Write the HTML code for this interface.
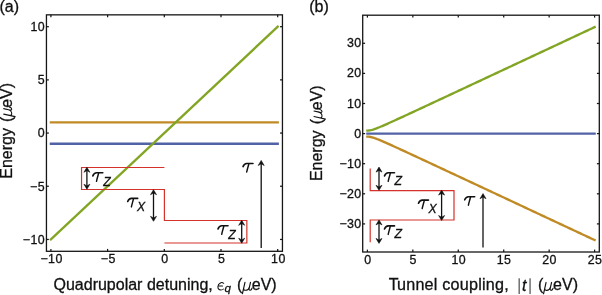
<!DOCTYPE html>
<html><head><meta charset="utf-8"><style>
html,body{margin:0;padding:0;background:#fff;}
svg{display:block;will-change:transform;}
text{font-family:"Liberation Sans",sans-serif;fill:#111;font-kerning:none;stroke:#111;stroke-width:0.3px;}
.t text{font-size:12.4px;letter-spacing:0.4px;}
.m{font-family:"Liberation Serif",serif;font-style:italic;}
.si{font-family:"Liberation Sans",sans-serif;font-style:italic;}
.ax{font-size:16px;}
</style></head><body>
<svg width="602" height="295" viewBox="0 0 602 295">
<rect width="602" height="295" fill="#fff"/>
<text x="-0.6" y="11.9" font-size="16">(a)</text>
<text x="309.2" y="11.9" font-size="16">(b)</text>

<!-- panel a curves -->
<g fill="none" stroke-width="2.35" stroke-linecap="square">
<line x1="50.90" y1="122.43" x2="277.70" y2="122.43" stroke="#c08a24"/>
<line x1="50.90" y1="143.71" x2="277.70" y2="143.71" stroke="#5262a6"/>
<line x1="50.90" y1="239.44" x2="277.70" y2="26.70" stroke="#82a524"/>
</g>
<!-- panel b curves -->
<g fill="none" stroke-width="2.35" stroke-linecap="square" stroke-linejoin="round">
<line x1="367.40" y1="133.60" x2="594.60" y2="133.60" stroke="#5262a6"/>
<polyline points="367.40,130.59 368.54,130.54 369.67,130.41 370.81,130.19 371.94,129.91 373.08,129.58 374.22,129.21 375.35,128.81 376.49,128.39 377.62,127.94 378.76,127.49 379.90,127.02 381.03,126.54 382.17,126.06 383.30,125.57 384.44,125.07 385.58,124.57 386.71,124.07 387.85,123.56 388.98,123.05 390.12,122.54 391.26,122.03 392.39,121.51 393.53,121.00 394.66,120.48 395.80,119.96 396.94,119.44 398.07,118.92 399.21,118.40 400.34,117.88 401.48,117.36 402.62,116.83 403.75,116.31 404.89,115.78 406.02,115.26 407.16,114.73 408.30,114.21 409.43,113.68 410.57,113.16 411.70,112.63 412.84,112.10 413.98,111.58 415.11,111.05 416.25,110.52 417.38,109.99 418.52,109.47 419.66,108.94 420.79,108.41 421.93,107.88 423.06,107.35 424.20,106.83 425.34,106.30 426.47,105.77 427.61,105.24 428.74,104.71 429.88,104.18 431.02,103.65 432.15,103.12 433.29,102.59 434.42,102.06 435.56,101.53 436.70,101.00 437.83,100.47 438.97,99.94 440.10,99.41 441.24,98.88 442.38,98.35 443.51,97.82 444.65,97.29 445.78,96.76 446.92,96.23 448.06,95.70 449.19,95.17 450.33,94.64 451.46,94.11 452.60,93.58 453.74,93.05 454.87,92.52 456.01,91.99 457.14,91.46 458.28,90.93 459.42,90.40 460.55,89.86 461.69,89.33 462.82,88.80 463.96,88.27 465.10,87.74 466.23,87.21 467.37,86.68 468.50,86.15 469.64,85.62 470.78,85.09 471.91,84.55 473.05,84.02 474.18,83.49 475.32,82.96 476.46,82.43 477.59,81.90 478.73,81.37 479.86,80.84 481.00,80.31 482.14,79.77 483.27,79.24 484.41,78.71 485.54,78.18 486.68,77.65 487.82,77.12 488.95,76.59 490.09,76.05 491.22,75.52 492.36,74.99 493.50,74.46 494.63,73.93 495.77,73.40 496.90,72.87 498.04,72.33 499.18,71.80 500.31,71.27 501.45,70.74 502.58,70.21 503.72,69.68 504.86,69.15 505.99,68.61 507.13,68.08 508.26,67.55 509.40,67.02 510.54,66.49 511.67,65.96 512.81,65.42 513.94,64.89 515.08,64.36 516.22,63.83 517.35,63.30 518.49,62.77 519.62,62.24 520.76,61.70 521.90,61.17 523.03,60.64 524.17,60.11 525.30,59.58 526.44,59.05 527.58,58.51 528.71,57.98 529.85,57.45 530.98,56.92 532.12,56.39 533.26,55.86 534.39,55.32 535.53,54.79 536.66,54.26 537.80,53.73 538.94,53.20 540.07,52.67 541.21,52.13 542.34,51.60 543.48,51.07 544.62,50.54 545.75,50.01 546.89,49.47 548.02,48.94 549.16,48.41 550.30,47.88 551.43,47.35 552.57,46.82 553.70,46.28 554.84,45.75 555.98,45.22 557.11,44.69 558.25,44.16 559.38,43.63 560.52,43.09 561.66,42.56 562.79,42.03 563.93,41.50 565.06,40.97 566.20,40.43 567.34,39.90 568.47,39.37 569.61,38.84 570.74,38.31 571.88,37.78 573.02,37.24 574.15,36.71 575.29,36.18 576.42,35.65 577.56,35.12 578.70,34.58 579.83,34.05 580.97,33.52 582.10,32.99 583.24,32.46 584.38,31.92 585.51,31.39 586.65,30.86 587.78,30.33 588.92,29.80 590.06,29.27 591.19,28.73 592.33,28.20 593.46,27.67 594.60,27.14" stroke="#82a524"/>
<polyline points="367.40,136.61 368.54,136.66 369.67,136.79 370.81,137.01 371.94,137.29 373.08,137.62 374.22,137.99 375.35,138.39 376.49,138.81 377.62,139.26 378.76,139.71 379.90,140.18 381.03,140.66 382.17,141.14 383.30,141.63 384.44,142.13 385.58,142.63 386.71,143.13 387.85,143.64 388.98,144.15 390.12,144.66 391.26,145.17 392.39,145.69 393.53,146.20 394.66,146.72 395.80,147.24 396.94,147.76 398.07,148.28 399.21,148.80 400.34,149.32 401.48,149.84 402.62,150.37 403.75,150.89 404.89,151.42 406.02,151.94 407.16,152.47 408.30,152.99 409.43,153.52 410.57,154.04 411.70,154.57 412.84,155.10 413.98,155.62 415.11,156.15 416.25,156.68 417.38,157.21 418.52,157.73 419.66,158.26 420.79,158.79 421.93,159.32 423.06,159.85 424.20,160.37 425.34,160.90 426.47,161.43 427.61,161.96 428.74,162.49 429.88,163.02 431.02,163.55 432.15,164.08 433.29,164.61 434.42,165.14 435.56,165.67 436.70,166.20 437.83,166.73 438.97,167.26 440.10,167.79 441.24,168.32 442.38,168.85 443.51,169.38 444.65,169.91 445.78,170.44 446.92,170.97 448.06,171.50 449.19,172.03 450.33,172.56 451.46,173.09 452.60,173.62 453.74,174.15 454.87,174.68 456.01,175.21 457.14,175.74 458.28,176.27 459.42,176.80 460.55,177.34 461.69,177.87 462.82,178.40 463.96,178.93 465.10,179.46 466.23,179.99 467.37,180.52 468.50,181.05 469.64,181.58 470.78,182.11 471.91,182.65 473.05,183.18 474.18,183.71 475.32,184.24 476.46,184.77 477.59,185.30 478.73,185.83 479.86,186.36 481.00,186.89 482.14,187.43 483.27,187.96 484.41,188.49 485.54,189.02 486.68,189.55 487.82,190.08 488.95,190.61 490.09,191.15 491.22,191.68 492.36,192.21 493.50,192.74 494.63,193.27 495.77,193.80 496.90,194.33 498.04,194.87 499.18,195.40 500.31,195.93 501.45,196.46 502.58,196.99 503.72,197.52 504.86,198.05 505.99,198.59 507.13,199.12 508.26,199.65 509.40,200.18 510.54,200.71 511.67,201.24 512.81,201.78 513.94,202.31 515.08,202.84 516.22,203.37 517.35,203.90 518.49,204.43 519.62,204.96 520.76,205.50 521.90,206.03 523.03,206.56 524.17,207.09 525.30,207.62 526.44,208.15 527.58,208.69 528.71,209.22 529.85,209.75 530.98,210.28 532.12,210.81 533.26,211.34 534.39,211.88 535.53,212.41 536.66,212.94 537.80,213.47 538.94,214.00 540.07,214.53 541.21,215.07 542.34,215.60 543.48,216.13 544.62,216.66 545.75,217.19 546.89,217.73 548.02,218.26 549.16,218.79 550.30,219.32 551.43,219.85 552.57,220.38 553.70,220.92 554.84,221.45 555.98,221.98 557.11,222.51 558.25,223.04 559.38,223.57 560.52,224.11 561.66,224.64 562.79,225.17 563.93,225.70 565.06,226.23 566.20,226.77 567.34,227.30 568.47,227.83 569.61,228.36 570.74,228.89 571.88,229.42 573.02,229.96 574.15,230.49 575.29,231.02 576.42,231.55 577.56,232.08 578.70,232.62 579.83,233.15 580.97,233.68 582.10,234.21 583.24,234.74 584.38,235.28 585.51,235.81 586.65,236.34 587.78,236.87 588.92,237.40 590.06,237.93 591.19,238.47 592.33,239.00 593.46,239.53 594.60,240.06" stroke="#c08a24"/>
</g>
<!-- red pulses -->
<g fill="none" stroke="#d4322a" stroke-width="1.2">
<path d="M164.4 167.5 H81.55 V189.5 H164.4 V220.5 H246.85 V243.0 H164.4"/>
<path d="M370.2 168.4 V190.6 H454 V220.0 H370.2 V242.3"/>
</g>
<!-- frames -->
<g fill="none" stroke="#161616" stroke-width="1.3">
<rect x="46.45" y="14.85" width="236.0" height="236.45000000000002"/>
<rect x="362.7" y="15.2" width="236.59999999999997" height="236.8"/>
</g>
<g stroke="#161616" stroke-width="1.25"><line x1="50.90" y1="251.3" x2="50.90" y2="248.9"/><line x1="50.90" y1="14.85" x2="50.90" y2="17.25"/><line x1="46.45" y1="239.44" x2="48.85" y2="239.44"/><line x1="282.45" y1="239.44" x2="280.05" y2="239.44"/><line x1="107.60" y1="251.3" x2="107.60" y2="248.9"/><line x1="107.60" y1="14.85" x2="107.60" y2="17.25"/><line x1="46.45" y1="186.25" x2="48.85" y2="186.25"/><line x1="282.45" y1="186.25" x2="280.05" y2="186.25"/><line x1="164.30" y1="251.3" x2="164.30" y2="248.9"/><line x1="164.30" y1="14.85" x2="164.30" y2="17.25"/><line x1="46.45" y1="133.07" x2="48.85" y2="133.07"/><line x1="282.45" y1="133.07" x2="280.05" y2="133.07"/><line x1="221.00" y1="251.3" x2="221.00" y2="248.9"/><line x1="221.00" y1="14.85" x2="221.00" y2="17.25"/><line x1="46.45" y1="79.88" x2="48.85" y2="79.88"/><line x1="282.45" y1="79.88" x2="280.05" y2="79.88"/><line x1="277.70" y1="251.3" x2="277.70" y2="248.9"/><line x1="277.70" y1="14.85" x2="277.70" y2="17.25"/><line x1="46.45" y1="26.70" x2="48.85" y2="26.70"/><line x1="282.45" y1="26.70" x2="280.05" y2="26.70"/><line x1="367.40" y1="252.0" x2="367.40" y2="249.6"/><line x1="367.40" y1="15.2" x2="367.40" y2="17.599999999999998"/><line x1="412.84" y1="252.0" x2="412.84" y2="249.6"/><line x1="412.84" y1="15.2" x2="412.84" y2="17.599999999999998"/><line x1="458.28" y1="252.0" x2="458.28" y2="249.6"/><line x1="458.28" y1="15.2" x2="458.28" y2="17.599999999999998"/><line x1="503.72" y1="252.0" x2="503.72" y2="249.6"/><line x1="503.72" y1="15.2" x2="503.72" y2="17.599999999999998"/><line x1="549.16" y1="252.0" x2="549.16" y2="249.6"/><line x1="549.16" y1="15.2" x2="549.16" y2="17.599999999999998"/><line x1="594.60" y1="252.0" x2="594.60" y2="249.6"/><line x1="594.60" y1="15.2" x2="594.60" y2="17.599999999999998"/><line x1="362.7" y1="223.90" x2="365.09999999999997" y2="223.90"/><line x1="599.3" y1="223.90" x2="596.9" y2="223.90"/><line x1="362.7" y1="193.80" x2="365.09999999999997" y2="193.80"/><line x1="599.3" y1="193.80" x2="596.9" y2="193.80"/><line x1="362.7" y1="163.70" x2="365.09999999999997" y2="163.70"/><line x1="599.3" y1="163.70" x2="596.9" y2="163.70"/><line x1="362.7" y1="133.60" x2="365.09999999999997" y2="133.60"/><line x1="599.3" y1="133.60" x2="596.9" y2="133.60"/><line x1="362.7" y1="103.50" x2="365.09999999999997" y2="103.50"/><line x1="599.3" y1="103.50" x2="596.9" y2="103.50"/><line x1="362.7" y1="73.40" x2="365.09999999999997" y2="73.40"/><line x1="599.3" y1="73.40" x2="596.9" y2="73.40"/><line x1="362.7" y1="43.30" x2="365.09999999999997" y2="43.30"/><line x1="599.3" y1="43.30" x2="596.9" y2="43.30"/></g>
<g class="t"><text x="51.60" y="263.2" text-anchor="middle">−10</text><text x="45.0" y="243.79" text-anchor="end">−10</text><text x="108.30" y="263.2" text-anchor="middle">−5</text><text x="45.0" y="190.60" text-anchor="end">−5</text><text x="165.00" y="263.2" text-anchor="middle">0</text><text x="45.0" y="137.42" text-anchor="end">0</text><text x="221.70" y="263.2" text-anchor="middle">5</text><text x="45.0" y="84.23" text-anchor="end">5</text><text x="278.40" y="263.2" text-anchor="middle">10</text><text x="45.0" y="31.05" text-anchor="end">10</text><text x="367.80" y="263.8" text-anchor="middle">0</text><text x="413.24" y="263.8" text-anchor="middle">5</text><text x="458.68" y="263.8" text-anchor="middle">10</text><text x="504.12" y="263.8" text-anchor="middle">15</text><text x="549.56" y="263.8" text-anchor="middle">20</text><text x="595.00" y="263.8" text-anchor="middle">25</text><text x="361.6" y="227.95" text-anchor="end">−30</text><text x="361.6" y="197.85" text-anchor="end">−20</text><text x="361.6" y="167.75" text-anchor="end">−10</text><text x="361.6" y="137.65" text-anchor="end">0</text><text x="361.6" y="107.55" text-anchor="end">10</text><text x="361.6" y="77.45" text-anchor="end">20</text><text x="361.6" y="47.35" text-anchor="end">30</text></g>
<!-- arrows -->
<g fill="none" stroke="#111" stroke-width="1.3">
<path d="M86.9 169.29999999999998 V187.20000000000002" /><path d="M86.9 167.29999999999998 L89.9 172.29999999999998 L86.9 170.6 L83.9 172.29999999999998 Z" fill="#111" stroke="#111" stroke-width="0.6" stroke-linejoin="round"/><path d="M86.9 189.20000000000002 L89.9 184.20000000000002 L86.9 185.9 L83.9 184.20000000000002 Z" fill="#111" stroke="#111" stroke-width="0.6" stroke-linejoin="round"/>
<path d="M153.5 191.7 V219.3" /><path d="M153.5 189.7 L156.5 194.7 L153.5 193.0 L150.5 194.7 Z" fill="#111" stroke="#111" stroke-width="0.6" stroke-linejoin="round"/><path d="M153.5 221.3 L156.5 216.3 L153.5 218.0 L150.5 216.3 Z" fill="#111" stroke="#111" stroke-width="0.6" stroke-linejoin="round"/>
<path d="M241.7 222.29999999999998 V241.20000000000002" /><path d="M241.7 220.29999999999998 L244.7 225.29999999999998 L241.7 223.6 L238.7 225.29999999999998 Z" fill="#111" stroke="#111" stroke-width="0.6" stroke-linejoin="round"/><path d="M241.7 243.20000000000002 L244.7 238.20000000000002 L241.7 239.9 L238.7 238.20000000000002 Z" fill="#111" stroke="#111" stroke-width="0.6" stroke-linejoin="round"/>
<path d="M261.2 162.39999999999998 V248.0" /><path d="M261.2 160.39999999999998 L264.2 165.49999999999997 L261.2 163.79999999999998 L258.2 165.49999999999997 Z" fill="#111" stroke="#111" stroke-width="0.6" stroke-linejoin="round"/>
<path d="M379.0 169.1 V188.3" /><path d="M379.0 167.1 L382.0 172.1 L379.0 170.4 L376.0 172.1 Z" fill="#111" stroke="#111" stroke-width="0.6" stroke-linejoin="round"/><path d="M379.0 190.3 L382.0 185.3 L379.0 187.0 L376.0 185.3 Z" fill="#111" stroke="#111" stroke-width="0.6" stroke-linejoin="round"/>
<path d="M441.6 192.1 V218.5" /><path d="M441.6 190.1 L444.6 195.1 L441.6 193.4 L438.6 195.1 Z" fill="#111" stroke="#111" stroke-width="0.6" stroke-linejoin="round"/><path d="M441.6 220.5 L444.6 215.5 L441.6 217.2 L438.6 215.5 Z" fill="#111" stroke="#111" stroke-width="0.6" stroke-linejoin="round"/>
<path d="M379.0 221.9 V241.4" /><path d="M379.0 219.9 L382.0 224.9 L379.0 223.20000000000002 L376.0 224.9 Z" fill="#111" stroke="#111" stroke-width="0.6" stroke-linejoin="round"/><path d="M379.0 243.4 L382.0 238.4 L379.0 240.1 L376.0 238.4 Z" fill="#111" stroke="#111" stroke-width="0.6" stroke-linejoin="round"/>
<path d="M483.0 195.6 V247.5" /><path d="M483.0 193.6 L486.0 198.7 L483.0 197.0 L480.0 198.7 Z" fill="#111" stroke="#111" stroke-width="0.6" stroke-linejoin="round"/>
</g>
<g transform="translate(92.3,171.9)" fill="none" stroke="#111" stroke-linecap="round"><path d="M0.5 4.0 C1.3 2.0 2.3 0.9 4.2 0.9 L10.5 0.9" stroke-width="1.6"/><path d="M6.3 1.2 C5.7 4.0 4.6 7.0 4.2 9.4" stroke-width="1.45"/></g><text x="103.3" y="185.6" class="si" font-size="12.2">Z</text>
<g transform="translate(127.2,197.5)" fill="none" stroke="#111" stroke-linecap="round"><path d="M0.5 4.0 C1.3 2.0 2.3 0.9 4.2 0.9 L10.5 0.9" stroke-width="1.6"/><path d="M6.3 1.2 C5.7 4.0 4.6 7.0 4.2 9.4" stroke-width="1.45"/></g><text x="137.1" y="211.1" class="si" font-size="12.2">X</text>
<g transform="translate(217.5,224.9)" fill="none" stroke="#111" stroke-linecap="round"><path d="M0.5 4.0 C1.3 2.0 2.3 0.9 4.2 0.9 L10.5 0.9" stroke-width="1.6"/><path d="M6.3 1.2 C5.7 4.0 4.6 7.0 4.2 9.4" stroke-width="1.45"/></g><text x="228.2" y="238.5" class="si" font-size="12.2">Z</text>
<g transform="translate(242.5,162.6)" fill="none" stroke="#111" stroke-linecap="round"><path d="M0.5 4.0 C1.3 2.0 2.3 0.9 4.2 0.9 L10.5 0.9" stroke-width="1.6"/><path d="M6.3 1.2 C5.7 4.0 4.6 7.0 4.2 9.4" stroke-width="1.45"/></g>
<g transform="translate(384,171.9)" fill="none" stroke="#111" stroke-linecap="round"><path d="M0.5 4.0 C1.3 2.0 2.3 0.9 4.2 0.9 L10.5 0.9" stroke-width="1.6"/><path d="M6.3 1.2 C5.7 4.0 4.6 7.0 4.2 9.4" stroke-width="1.45"/></g><text x="394.5" y="185.3" class="si" font-size="12.2">Z</text>
<g transform="translate(418.0,199.2)" fill="none" stroke="#111" stroke-linecap="round"><path d="M0.5 4.0 C1.3 2.0 2.3 0.9 4.2 0.9 L10.5 0.9" stroke-width="1.6"/><path d="M6.3 1.2 C5.7 4.0 4.6 7.0 4.2 9.4" stroke-width="1.45"/></g><text x="428.5" y="212.6" class="si" font-size="12.2">X</text>
<g transform="translate(384,225.0)" fill="none" stroke="#111" stroke-linecap="round"><path d="M0.5 4.0 C1.3 2.0 2.3 0.9 4.2 0.9 L10.5 0.9" stroke-width="1.6"/><path d="M6.3 1.2 C5.7 4.0 4.6 7.0 4.2 9.4" stroke-width="1.45"/></g><text x="394.5" y="238.4" class="si" font-size="12.2">Z</text>
<g transform="translate(464.2,195.8)" fill="none" stroke="#111" stroke-linecap="round"><path d="M0.5 4.0 C1.3 2.0 2.3 0.9 4.2 0.9 L10.5 0.9" stroke-width="1.6"/><path d="M6.3 1.2 C5.7 4.0 4.6 7.0 4.2 9.4" stroke-width="1.45"/></g>
<!-- axis labels -->
<g class="ax">
<text x="53.5" y="290.3">Quadrupolar detuning,</text>
<g transform="translate(217.6,282.2)" fill="none" stroke="#111" stroke-width="1.05" stroke-linecap="round"><path d="M6.1 1.1 C5.2 0.4 3.9 0.2 2.8 0.7 C1.0 1.5 0.3 3.0 0.3 4.5 C0.3 6.6 1.6 7.8 3.3 7.8 C4.4 7.8 5.3 7.4 5.9 6.8 M0.8 3.7 H4.9"/></g>
<text x="224.5" y="292.4" class="si" style="font-size:11.6px">q</text>
<text x="237" y="290.3">(</text>
<path transform="translate(242.0,290.3) scale(1.1,1)" d="M2.7 -8 L0.4 3.4 M1.55 -2.2 C1.3 -0.6 2.1 0 3.3 0 C5 0 6.4 -1.8 6.9 -4 M7.7 -8 L6.5 -2 C6.2 -0.7 6.6 0 7.4 0 C8.3 0 8.8 -0.9 9.1 -2.2" fill="none" stroke="#111" stroke-width="1.05" stroke-linecap="round" stroke-linejoin="round"/>
<text x="251.8" y="290.3">eV)</text>

<text x="388.75" y="289.9">T</text><text x="397.0" y="289.9" style="font-size:16.15px;letter-spacing:0.22px">unnel coupling,</text>
<path d="M519.15 278.3 V294.0 M530.05 278.3 V294.0" stroke="#111" stroke-width="0.9" fill="none"/>
<text x="521.9" y="290.5" class="si" style="font-size:16px">t</text>
<text x="538.0" y="290.4">(</text>
<path transform="translate(543.1,290.4) scale(1.1,1)" d="M2.7 -8 L0.4 3.4 M1.55 -2.2 C1.3 -0.6 2.1 0 3.3 0 C5 0 6.4 -1.8 6.9 -4 M7.7 -8 L6.5 -2 C6.2 -0.7 6.6 0 7.4 0 C8.3 0 8.8 -0.9 9.1 -2.2" fill="none" stroke="#111" stroke-width="1.05" stroke-linecap="round" stroke-linejoin="round"/>
<text x="553.1" y="290.4">eV)</text>

<g transform="translate(11.7,178.2) rotate(-90)">
<text x="-0.5" y="0">Energy</text><text x="56.3" y="0">(</text><path transform="translate(61.1,0) scale(1.1,1)" d="M2.7 -8 L0.4 3.4 M1.55 -2.2 C1.3 -0.6 2.1 0 3.3 0 C5 0 6.4 -1.8 6.9 -4 M7.7 -8 L6.5 -2 C6.2 -0.7 6.6 0 7.4 0 C8.3 0 8.8 -0.9 9.1 -2.2" fill="none" stroke="#111" stroke-width="1.05" stroke-linecap="round" stroke-linejoin="round"/><text x="70.4" y="0">eV)</text></g>
<g transform="translate(322,180.6) rotate(-90)">
<text x="-0.5" y="0">Energy</text><text x="56.3" y="0">(</text><path transform="translate(61.1,0) scale(1.1,1)" d="M2.7 -8 L0.4 3.4 M1.55 -2.2 C1.3 -0.6 2.1 0 3.3 0 C5 0 6.4 -1.8 6.9 -4 M7.7 -8 L6.5 -2 C6.2 -0.7 6.6 0 7.4 0 C8.3 0 8.8 -0.9 9.1 -2.2" fill="none" stroke="#111" stroke-width="1.05" stroke-linecap="round" stroke-linejoin="round"/><text x="70.4" y="0">eV)</text></g>
</g>
</svg>
</body></html>
